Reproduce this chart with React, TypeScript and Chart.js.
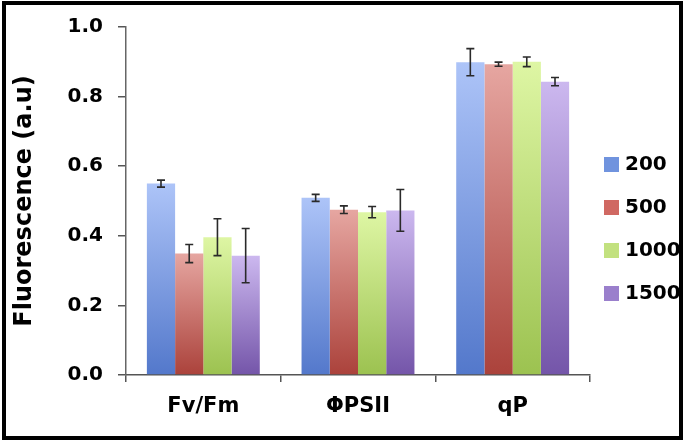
import React, { useEffect, useRef } from "react";
import { Chart, registerables } from "chart.js";

Chart.register(...registerables);

const categories = ["Fv/Fm", "ΦPSII", "qP"];
const seriesLabels = ["200", "500", "1000", "1500"];
const values200 = [0.55, 0.509, 0.899];
const values500 = [0.349, 0.475, 0.893];
const values1000 = [0.396, 0.468, 0.9];
const values1500 = [0.343, 0.473, 0.843];
const err200 = [0.01, 0.01, 0.039];
const err500 = [0.026, 0.011, 0.006];
const err1000 = [0.053, 0.016, 0.014];
const err1500 = [0.078, 0.06, 0.012];
const yTicks = [0, 0.2, 0.4, 0.6, 0.8, 1.0];

const seriesValues = [values200, values500, values1000, values1500];
const seriesErrors = [err200, err500, err1000, err1500];

const topColors = ["#adc4f8", "#e6a6a1", "#def6a4", "#ccb8ef"];
const bottomColors = ["#5378cb", "#ab423b", "#9cc250", "#7455a9"];
const legendColors = ["#7093de", "#d06862", "#c2e17f", "#9a7fcc"];

const FONT = "'DejaVu Sans', 'Liberation Sans', Arial, sans-serif";

const makeBg = (i: number) => (ctx: any) => {
  if (ctx.type !== "data") return legendColors[i];
  const chart = ctx.chart;
  const area = chart.chartArea;
  const yScale = chart.scales.y;
  if (!area || !yScale) return legendColors[i];
  const top = yScale.getPixelForValue(ctx.raw);
  const bottom = yScale.getPixelForValue(0);
  if (!isFinite(top) || !isFinite(bottom) || bottom - top < 1) return legendColors[i];
  const g = chart.ctx.createLinearGradient(0, top, 0, bottom);
  g.addColorStop(0, topColors[i]);
  g.addColorStop(1, bottomColors[i]);
  return g;
};

const errorBarPlugin = {
  id: "errorBars",
  afterDatasetsDraw(chart: any) {
    const { ctx } = chart;
    const yScale = chart.scales.y;
    chart.data.datasets.forEach((ds: any, di: number) => {
      const meta = chart.getDatasetMeta(di);
      const errs = seriesErrors[di];
      meta.data.forEach((bar: any, i: number) => {
        const v = ds.data[i];
        const e = errs[i];
        const yTop = yScale.getPixelForValue(v + e);
        const yBot = yScale.getPixelForValue(v - e);
        const x = bar.x;
        ctx.save();
        ctx.strokeStyle = "#2a2a2a";
        ctx.lineWidth = 1.6;
        ctx.beginPath();
        ctx.moveTo(x, yTop);
        ctx.lineTo(x, yBot);
        ctx.moveTo(x - 4, yTop);
        ctx.lineTo(x + 4, yTop);
        ctx.moveTo(x - 4, yBot);
        ctx.lineTo(x + 4, yBot);
        ctx.stroke();
        ctx.restore();
      });
    });
  },
};

const sideLegendPlugin = {
  id: "sideLegend",
  afterDraw(chart: any) {
    const { ctx, chartArea } = chart;
    ctx.save();
    ctx.font = `bold 20px ${FONT}`;
    ctx.textBaseline = "middle";
    ctx.textAlign = "left";
    chart.data.datasets.forEach((ds: any, i: number) => {
      const cy = chartArea.top + 137 + i * 43;
      const bx = chartArea.right + 14;
      ctx.fillStyle = legendColors[i];
      ctx.fillRect(bx, cy - 7, 15, 15);
      ctx.fillStyle = "#000";
      ctx.fillText(ds.label, bx + 21, cy + 1);
    });
    ctx.restore();
  },
};

export default function App() {
  const ref = useRef<HTMLCanvasElement | null>(null);

  useEffect(() => {
    if (!ref.current) return;
    const chart = new Chart(ref.current, {
      type: "bar",
      data: {
        labels: categories,
        datasets: seriesLabels.map((label, i) => ({
          label,
          data: seriesValues[i],
          backgroundColor: makeBg(i),
          borderWidth: 0,
          barPercentage: 1,
          categoryPercentage: 0.73,
        })),
      },
      options: {
        responsive: false,
        animation: false,
        devicePixelRatio: 1,
        layout: { padding: { left: 5, top: 16, right: 92, bottom: 26 } },
        plugins: {
          legend: { display: false },
          tooltip: { enabled: false },
        },
        scales: {
          x: {
            ticks: {
              font: { family: FONT, weight: "bold", size: 21 },
              color: "#000",
              padding: 12,
            },
            grid: {
              drawOnChartArea: false,
              offset: true,
              tickLength: 7,
              color: "#555",
              lineWidth: 1.5,
            },
            border: { color: "#555", width: 1.5 },
            afterFit: (s: any) => {
              s.height = 44;
            },
          },
          y: {
            min: 0,
            max: 1,
            afterBuildTicks: (s: any) => {
              s.ticks = yTicks.map((v) => ({ value: v }));
            },
            ticks: {
              callback: (v: any) => Number(v).toFixed(1),
              font: { family: FONT, weight: "bold", size: 20 },
              color: "#000",
              padding: 15,
            },
            grid: {
              drawOnChartArea: false,
              tickLength: 8,
              color: "#555",
              lineWidth: 1.5,
            },
            border: { color: "#666", width: 1.5 },
            title: {
              display: true,
              text: "Fluorescence (a.u)",
              font: { family: FONT, weight: "bold", size: 24 },
              color: "#000",
              padding: { top: 5, bottom: 0 },
            },
            afterFit: (s: any) => {
              s.width = 121;
            },
          },
        },
      },
      plugins: [errorBarPlugin, sideLegendPlugin],
    } as any);
    return () => chart.destroy();
  }, []);

  return (
    <div
      style={{
        position: "fixed",
        left: 0,
        top: 0,
        width: 688,
        height: 445,
        background: "#fff",
        overflow: "hidden",
      }}
    >
      <canvas
        ref={ref}
        width={682}
        height={445}
        style={{ position: "absolute", left: 0, top: 0, display: "block" }}
      />
      <div
        style={{
          position: "absolute",
          left: 2,
          top: 1,
          width: 681,
          height: 439,
          border: "4px solid #000",
          boxSizing: "border-box",
          pointerEvents: "none",
        }}
      />
    </div>
  );
}
